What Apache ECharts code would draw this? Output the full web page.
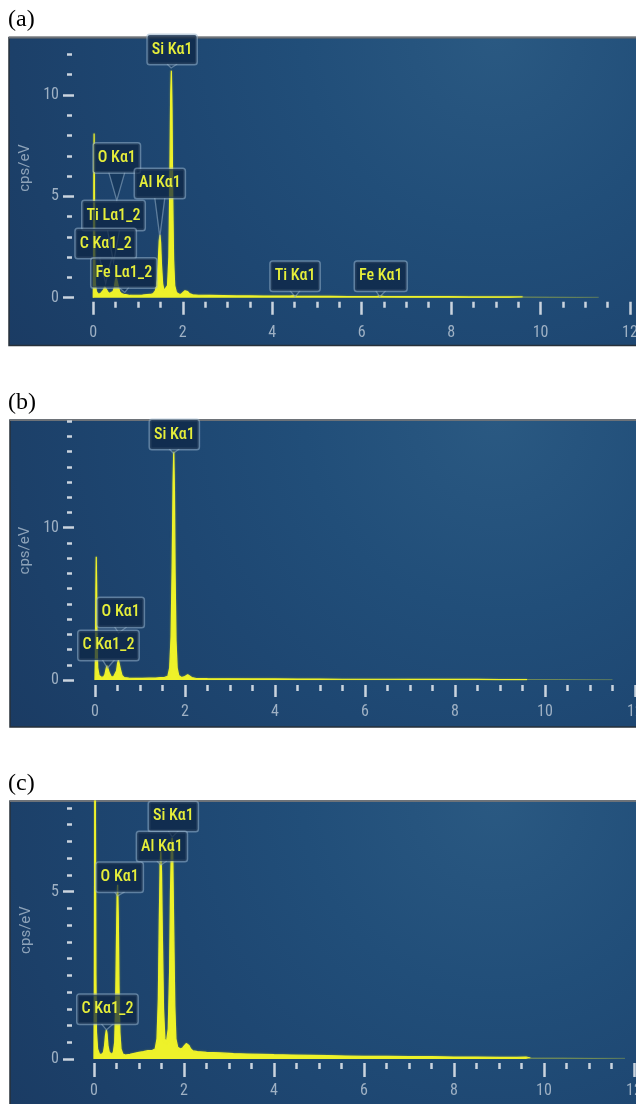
<!DOCTYPE html>
<html>
<head>
<meta charset="utf-8">
<script src="https://cdn.jsdelivr.net/npm/echarts@6/dist/echarts.min.js"></script>
<style>
  html, body { margin: 0; padding: 0; background: #ffffff; }
  #chart { width: 636px; height: 1104px; }
</style>
</head>
<body>
<div id="chart"></div>
<script>
// EDS spectra: energy (keV) vs. counts (cps/eV)

const xTickLabels = [0, 2, 4, 6, 8, 10, 12];

// ---- spectrum (a) ----
const spectrumA = [
  [0.000, 0.00], [0.005, 1.2], [0.012, 5.5], [0.018, 8.1], [0.024, 6.0], [0.032, 2.2],
  [0.045, 0.70], [0.070, 0.30], [0.110, 0.18], [0.160, 0.20], [0.200, 0.25], [0.230, 0.38],
  [0.255, 0.55], [0.275, 0.62], [0.295, 0.50], [0.320, 0.30], [0.360, 0.20], [0.400, 0.22],
  [0.440, 0.30], [0.470, 0.50], [0.495, 0.85], [0.515, 1.00], [0.535, 0.92], [0.560, 0.55],
  [0.590, 0.30], [0.630, 0.20], [0.680, 0.17], [0.710, 0.19], [0.750, 0.14], [0.820, 0.11],
  [0.900, 0.12], [1.000, 0.12], [1.100, 0.13], [1.200, 0.15], [1.280, 0.16], [1.340, 0.20],
  [1.390, 0.35], [1.430, 0.90], [1.455, 1.90], [1.475, 2.80], [1.490, 3.10], [1.505, 2.70],
  [1.525, 1.60], [1.550, 0.70], [1.580, 0.35], [1.620, 0.30], [1.660, 0.60], [1.690, 2.00],
  [1.710, 5.50], [1.730, 10.0], [1.745, 11.2], [1.760, 9.20], [1.775, 5.00], [1.795, 1.90],
  [1.820, 0.60], [1.860, 0.25], [1.920, 0.17], [1.970, 0.18], [2.010, 0.25], [2.050, 0.34],
  [2.080, 0.36], [2.110, 0.30], [2.150, 0.20], [2.220, 0.14], [2.350, 0.12], [2.600, 0.11],
  [2.900, 0.10], [3.200, 0.09], [3.500, 0.09], [3.800, 0.08], [4.100, 0.08], [4.400, 0.08],
  [4.500, 0.10], [4.550, 0.08], [4.900, 0.07], [5.300, 0.07], [5.700, 0.06], [6.100, 0.06],
  [6.350, 0.07], [6.420, 0.08], [6.500, 0.06], [6.900, 0.05], [7.400, 0.05], [7.900, 0.05],
  [8.400, 0.04], [8.900, 0.04], [9.300, 0.04], [9.600, 0.04]
];
const tailA = [[9.6, 0.04], [10.2, 0.03], [10.8, 0.02], [11.3, 0.02]];
const yMajorA = [0, 5, 10];
const yMinorA = [0, 1, 2, 3, 4, 5, 6, 7, 8, 9, 10, 11, 12];
const peakNamesA = ['Si Kα1', 'O Kα1', 'Al Kα1', 'Ti Lα1_2', 'C Kα1_2', 'Fe Lα1_2', 'Ti Kα1', 'Fe Kα1'];
const peakEnergiesA = [1.740, 0.525, 1.487, 0.452, 0.277, 0.705, 4.511, 6.404];

// ---- spectrum (b) ----
const spectrumB = [
  [0.000, 0.00], [0.010, 1.5], [0.020, 6.0], [0.028, 8.1], [0.036, 6.2], [0.045, 2.5],
  [0.060, 0.80], [0.090, 0.30], [0.140, 0.18], [0.190, 0.20], [0.220, 0.35], [0.245, 0.70],
  [0.265, 0.95], [0.280, 1.00], [0.295, 0.85], [0.320, 0.45], [0.360, 0.22], [0.410, 0.20],
  [0.450, 0.30], [0.480, 0.60], [0.500, 1.05], [0.520, 1.30], [0.540, 1.20], [0.565, 0.70],
  [0.600, 0.30], [0.650, 0.16], [0.750, 0.12], [0.900, 0.11], [1.050, 0.11], [1.200, 0.12],
  [1.350, 0.13], [1.450, 0.15], [1.550, 0.17], [1.620, 0.25], [1.660, 0.80], [1.690, 2.80],
  [1.715, 7.50], [1.735, 12.8], [1.750, 15.0], [1.765, 12.5], [1.780, 7.00], [1.800, 2.60],
  [1.825, 0.80], [1.860, 0.30], [1.920, 0.16], [1.980, 0.20], [2.020, 0.30], [2.060, 0.35],
  [2.100, 0.28], [2.150, 0.16], [2.250, 0.10], [2.500, 0.09], [3.000, 0.08], [3.500, 0.07],
  [4.000, 0.07], [4.500, 0.06], [5.000, 0.06], [5.500, 0.05], [6.000, 0.05], [6.500, 0.05],
  [7.000, 0.04], [7.500, 0.04], [8.000, 0.04], [8.500, 0.04], [9.000, 0.03], [9.600, 0.03]
];
const tailB = [[9.6, 0.03], [10.3, 0.03], [11.0, 0.02], [11.5, 0.02]];
const yMajorB = [0, 10];
const yMinorB = [0, 1, 2, 3, 4, 5, 6, 7, 8, 9, 10, 11, 12, 13, 14, 15, 16, 17];
const peakNamesB = ['Si Kα1', 'O Kα1', 'C Kα1_2'];
const peakEnergiesB = [1.740, 0.525, 0.277];

// ---- spectrum (c) ----
const spectrumC = [
  [0.000, 0.00], [0.008, 2.0], [0.016, 7.5], [0.024, 9.5], [0.032, 7.0], [0.042, 2.5],
  [0.055, 0.80], [0.080, 0.30], [0.120, 0.15], [0.170, 0.14], [0.210, 0.20], [0.235, 0.40],
  [0.255, 0.70], [0.275, 0.87], [0.290, 0.75], [0.310, 0.40], [0.340, 0.20], [0.390, 0.14],
  [0.430, 0.20], [0.460, 0.50], [0.480, 1.60], [0.500, 3.60], [0.515, 4.90], [0.525, 5.20],
  [0.540, 4.20], [0.555, 2.20], [0.575, 0.80], [0.600, 0.30], [0.640, 0.15], [0.700, 0.12],
  [0.800, 0.14], [0.900, 0.17], [1.000, 0.20], [1.100, 0.22], [1.200, 0.25], [1.300, 0.26],
  [1.360, 0.30], [1.400, 0.60], [1.430, 1.80], [1.450, 4.00], [1.470, 5.80], [1.485, 6.20],
  [1.500, 5.60], [1.520, 3.60], [1.545, 1.50], [1.575, 0.60], [1.610, 0.50], [1.650, 0.90],
  [1.680, 2.60], [1.700, 5.00], [1.720, 6.30], [1.735, 6.60], [1.750, 6.10], [1.770, 4.00],
  [1.795, 1.60], [1.820, 0.60], [1.860, 0.35], [1.920, 0.30], [1.970, 0.33], [2.010, 0.40],
  [2.050, 0.46], [2.080, 0.48], [2.110, 0.40], [2.150, 0.30], [2.200, 0.24], [2.300, 0.22],
  [2.500, 0.20], [2.800, 0.18], [3.100, 0.16], [3.400, 0.15], [3.700, 0.14], [4.000, 0.13],
  [4.400, 0.12], [4.800, 0.11], [5.200, 0.10], [5.600, 0.09], [6.000, 0.08], [6.500, 0.08],
  [7.000, 0.07], [7.500, 0.07], [8.000, 0.06], [8.500, 0.06], [9.000, 0.05], [9.400, 0.05],
  [9.600, 0.06], [9.700, 0.03]
];
const tailC = [[9.7, 0.03], [10.4, 0.03], [11.1, 0.02], [11.8, 0.02]];
const yMajorC = [0, 5];
const yMinorC = [0, 0.5, 1, 1.5, 2, 2.5, 3, 3.5, 4, 4.5, 5, 5.5, 6, 6.5, 7, 7.5];
const peakNamesC = ['Si Kα1', 'Al Kα1', 'O Kα1', 'C Kα1_2'];
const peakEnergiesC = [1.740, 1.487, 0.525, 0.277];

// ---------------------------------------------------------------------------
// Layout and styling
const NARROW = '"Liberation Sans Narrow", "Roboto Condensed", "Roboto", sans-serif';
const YELLOW = '#eef22a';
const TEXT_YELLOW = '#e6ee3a';
const TICK = '#cad4de';
const AXIS_TEXT = '#9fb1c4';
const BOX_FILL = 'rgba(12, 36, 66, 0.72)';
const BOX_EDGE = 'rgba(150, 176, 200, 0.55)';

// Callout placement per panel: tip height (cps), gap between box and tip (px),
// horizontal shift of the box (px) and half width of the tail base (px).
const calloutsA = [
  { tip: 11.33, gap: 4, dx: 1, half: 5 },
  { tip: 4.80, gap: 28, dx: 0, half: 8 },
  { tip: 3.00, gap: 39, dx: 0, half: 5 },
  { tip: 1.76, gap: 32, dx: 0, half: 6 },
  { tip: 0.72, gap: 25, dx: 0, half: 6 },
  { tip: 0.26, gap: 5, dx: -1, half: 5 },
  { tip: 0.05, gap: 6, dx: 0, half: 5 },
  { tip: 0.05, gap: 6, dx: 1, half: 5 }
];
const calloutsB = [
  { tip: 14.9, gap: 4, dx: 1, half: 5 },
  { tip: 3.09, gap: 6, dx: 2, half: 6 },
  { tip: 0.79, gap: 8, dx: 1, half: 6 }
];
const calloutsC = [
  { tip: 6.63, gap: 6, dx: 1, half: 5 },
  { tip: 5.79, gap: 4, dx: 1, half: 5 },
  { tip: 4.87, gap: 4, dx: 2, half: 5 },
  { tip: 0.87, gap: 6, dx: 1, half: 6 }
];

const panels = [
  { title: '(a)', titleY: 20, box: [9, 37.5, 308], grid: { left: 93.3, right: 6, top: 38.2, height: 259.5 },
    yMax: 12.8, yMajor: yMajorA, yMinor: yMinorA, xOffset: 4, xTick: 13, xMargin: 23,
    spectrum: spectrumA, tail: tailA, names: peakNamesA, energies: peakEnergiesA, callouts: calloutsA },
  { title: '(b)', titleY: 403, box: [10, 420, 307], grid: { left: 95, right: 1, top: 421.1, height: 258.9 },
    yMax: 17, yMajor: yMajorB, yMinor: yMinorB, xOffset: 5, xTick: 12, xMargin: 19,
    spectrum: spectrumB, tail: tailB, names: peakNamesB, energies: peakEnergiesB, callouts: calloutsB },
  { title: '(c)', titleY: 784, box: [10, 801, 310], grid: { left: 94, right: 2, top: 801.05, height: 257.95 },
    yMax: 7.7, yMajor: yMajorC, yMinor: yMinorC, xOffset: 4, xTick: 14, xMargin: 20,
    spectrum: spectrumC, tail: tailC, names: peakNamesC, energies: peakEnergiesC, callouts: calloutsC }
];

const grids = [], xAxes = [], yAxes = [], series = [], graphics = [];

panels.forEach((p, i) => {
  const [bx, by, bh] = p.box;
  const bw = 640;
  // panel background with a soft radial glow toward the upper right
  graphics.push({
    type: 'rect', z: -20, silent: true,
    shape: { x: bx, y: by, width: bw, height: bh },
    style: {
      fill: {
        type: 'radial', x: 0.76, y: 0.0, r: 1.95,
        colorStops: [
          { offset: 0.00, color: '#2a5982' },
          { offset: 0.14, color: '#26547e' },
          { offset: 0.32, color: '#214e79' },
          { offset: 0.55, color: '#1e4772' },
          { offset: 0.80, color: '#1c4069' },
          { offset: 1.00, color: '#1a3a62' }
        ]
      },
      stroke: '#27303a', lineWidth: 1.5
    }
  });
  graphics.push({
    type: 'line', z: -19, silent: true,
    shape: { x1: bx, y1: by, x2: bx + bw, y2: by },
    style: { stroke: '#6d7278', lineWidth: 2 }
  });
  graphics.push({
    type: 'text', z: 10, silent: true, x: 8, y: p.titleY,
    style: { text: p.title, font: '24px "Liberation Serif", "Times New Roman", serif', fill: '#000', verticalAlign: 'middle' }
  });

  grids.push(Object.assign({ show: false, outerBoundsMode: 'none' }, p.grid));

  xAxes.push({
    type: 'value', gridIndex: i, min: 0, max: 12, interval: 2, position: 'bottom', offset: p.xOffset,
    axisLine: { show: false, onZero: false },
    axisTick: { show: true, length: p.xTick, lineStyle: { color: TICK, width: 2.5 } },
    minorTick: { show: true, splitNumber: 4, length: 6, lineStyle: { color: TICK, width: 2.5 } },
    axisLabel: { color: AXIS_TEXT, margin: p.xMargin, fontFamily: NARROW, fontSize: 16,
      formatter: v => (xTickLabels.indexOf(v) >= 0 ? String(v) : '') },
    splitLine: { show: false }, minorSplitLine: { show: false }
  });

  yAxes.push({
    type: 'value', gridIndex: i, min: 0, max: p.yMax, position: 'left', offset: p.grid.left - 74,
    axisLine: { show: false, onZero: false },
    axisTick: { show: true, length: 11, customValues: p.yMajor, lineStyle: { color: TICK, width: 2.5 } },
    axisLabel: { show: true, customValues: p.yMajor, margin: 15, color: AXIS_TEXT, fontFamily: NARROW, fontSize: 16 },
    splitLine: { show: false },
    name: 'cps/eV', nameLocation: 'middle', nameGap: 40, nameRotate: 90,
    nameTextStyle: { color: '#8ea3b9', fontFamily: 'Roboto, sans-serif', fontSize: 15 }
  });
  yAxes.push({
    type: 'value', gridIndex: i, min: 0, max: p.yMax, position: 'left', offset: p.grid.left - 72,
    axisLine: { show: false, onZero: false },
    axisTick: { show: true, length: 5, customValues: p.yMinor, lineStyle: { color: TICK, width: 2.5 } },
    axisLabel: { show: false },
    splitLine: { show: false }
  });

  series.push({
    type: 'line', name: 'spectrum ' + p.title, xAxisIndex: i, yAxisIndex: i * 2,
    data: p.spectrum, showSymbol: false, symbol: 'none', smooth: false, clip: true, z: 3,
    lineStyle: { color: YELLOW, width: 1.2, shadowColor: 'rgba(238,242,42,0.5)', shadowBlur: 2 },
    areaStyle: { color: YELLOW, opacity: 1, origin: 'start' },
    silent: true, animation: false
  });
  series.push({
    type: 'line', name: 'tail ' + p.title, xAxisIndex: i, yAxisIndex: i * 2,
    data: p.tail, showSymbol: false, symbol: 'none', clip: true, z: 3,
    lineStyle: { color: YELLOW, width: 1, opacity: 0.3 },
    areaStyle: { color: YELLOW, opacity: 0.25, origin: 'start' },
    silent: true, animation: false
  });

  // peak callouts: a label box with a tail pointing to the line energy
  series.push({
    type: 'custom', name: 'peaks ' + p.title, xAxisIndex: i, yAxisIndex: i * 2,
    z: 6, silent: true, animation: false, clip: false,
    data: p.energies.map((e, k) => [e, p.callouts[k].tip, k]),
    renderItem: (params, api) => {
      const k = api.value(2);
      const c = p.callouts[k];
      const pt = api.coord([api.value(0), api.value(1)]);
      const cx = pt[0] + c.dx;
      const bottom = pt[1] - c.gap;
      return {
        type: 'group',
        children: [
          {
            type: 'polyline',
            shape: { points: [[cx - c.half, bottom], [pt[0], pt[1]], [cx + c.half, bottom]] },
            style: { stroke: BOX_EDGE, lineWidth: 1.3, fill: 'rgba(12, 36, 66, 0.35)' }
          },
          {
            type: 'text', x: cx, y: bottom,
            style: {
              text: p.names[k], align: 'center', verticalAlign: 'bottom',
              font: '500 16px ' + NARROW, fill: TEXT_YELLOW,
              backgroundColor: BOX_FILL, borderColor: BOX_EDGE, borderWidth: 1.5, borderRadius: 2,
              padding: [5, 4, 5, 4], lineHeight: 19
            }
          }
        ]
      };
    }
  });
});

const chart = echarts.init(document.getElementById('chart'), null, { renderer: 'canvas' });
chart.setOption({
  animation: false,
  backgroundColor: '#ffffff',
  grid: grids,
  xAxis: xAxes,
  yAxis: yAxes,
  series: series,
  graphic: { elements: graphics }
});
</script>
</body>
</html>
